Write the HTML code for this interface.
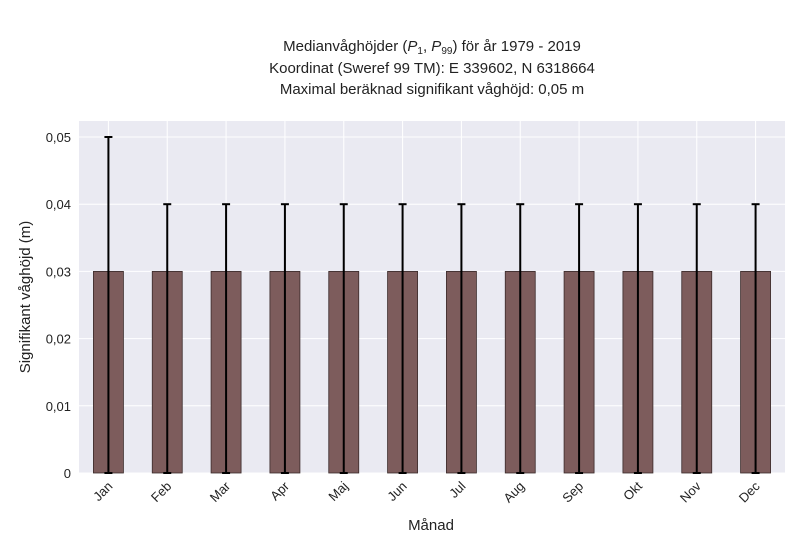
<!DOCTYPE html>
<html><head><meta charset="utf-8"><style>
body{margin:0;background:#fff;font-family:"Liberation Sans",sans-serif}
svg text{font-family:"Liberation Sans",sans-serif;fill:#222}
</style></head><body>
<svg width="800" height="550" viewBox="0 0 800 550">
<g font-size="15" text-anchor="middle">
<text x="432" y="51">Medianvåghöjder (<tspan font-style="italic">P</tspan><tspan font-size="10" dy="3">1</tspan><tspan dy="-3">, </tspan><tspan font-style="italic">P</tspan><tspan font-size="10" dy="3">99</tspan><tspan dy="-3">) för år 1979 - 2019</tspan></text>
<text x="432" y="73">Koordinat (Sweref 99 TM): E 339602, N 6318664</text>
<text x="432" y="94">Maximal beräknad signifikant våghöjd: 0,05 m</text>
</g>
<rect x="79" y="121" width="706" height="352" fill="#eaeaf2"/>
<g id="grid"></g><g id="bars"></g><g id="yticks"></g><g id="xticks"></g>
<text x="431" y="530" font-size="15" text-anchor="middle">Månad</text>
<text transform="translate(30,297) rotate(-90)" font-size="15" text-anchor="middle">Signifikant våghöjd (m)</text>
</svg>
<script>
const months=["Jan","Feb","Mar","Apr","Maj","Jun","Jul","Aug","Sep","Okt","Nov","Dec"];
const median=[0.03,0.03,0.03,0.03,0.03,0.03,0.03,0.03,0.03,0.03,0.03,0.03];
const p1=[0,0,0,0,0,0,0,0,0,0,0,0];
const p99=[0.05,0.04,0.04,0.04,0.04,0.04,0.04,0.04,0.04,0.04,0.04,0.04];
const yTicks=[0,0.01,0.02,0.03,0.04,0.05];
const yTickLabels=["0","0,01","0,02","0,03","0,04","0,05"];
const NS="http://www.w3.org/2000/svg";
const X0=79,W=706,Y0=473,pxPer=6720;
const y=v=>Y0-v*pxPer;
const x=i=>X0+W/months.length*(i+0.5);
function mk(t,a,p){const e=document.createElementNS(NS,t);for(const k in a)e.setAttribute(k,a[k]);p.appendChild(e);return e;}
const grid=document.getElementById('grid'),bars=document.getElementById('bars'),yt=document.getElementById('yticks'),xt=document.getElementById('xticks');
yTicks.forEach((v,i)=>{
 const l=mk('line',{x1:X0,x2:X0+W,y1:y(v),y2:y(v),stroke:'#fff','stroke-width':1},grid);
 
 
 const t=mk('text',{x:X0-8,y:y(v)+5,'font-size':13,'text-anchor':'end'},yt);t.textContent=yTickLabels[i];
 
 
});
months.forEach((m,i)=>{
 const g=mk('line',{x1:x(i),x2:x(i),y1:121,y2:Y0,stroke:'#fff','stroke-width':1},grid);
 
 
 const b=mk('rect',{x:x(i)-15,y:y(median[i]),width:30,height:y(0)-y(median[i]),fill:'#7d5c5c',stroke:'#3a2a2a','stroke-width':0.8},bars);
 
 
 const e=mk('line',{x1:x(i),x2:x(i),y1:y(p99[i]),y2:y(p1[i]),stroke:'#000','stroke-width':2},bars);
 
 
 [p99[i],p1[i]].forEach(v=>{const c=mk('line',{x1:x(i)-4,x2:x(i)+4,y1:y(v),y2:y(v),stroke:'#000','stroke-width':2},bars);
 
 });
 const t=mk('text',{'font-size':13,'text-anchor':'end',transform:`translate(${x(i)+5},${Y0+14}) rotate(-45)`},xt);t.textContent=m;
 
 
});
</script>
</body></html>
